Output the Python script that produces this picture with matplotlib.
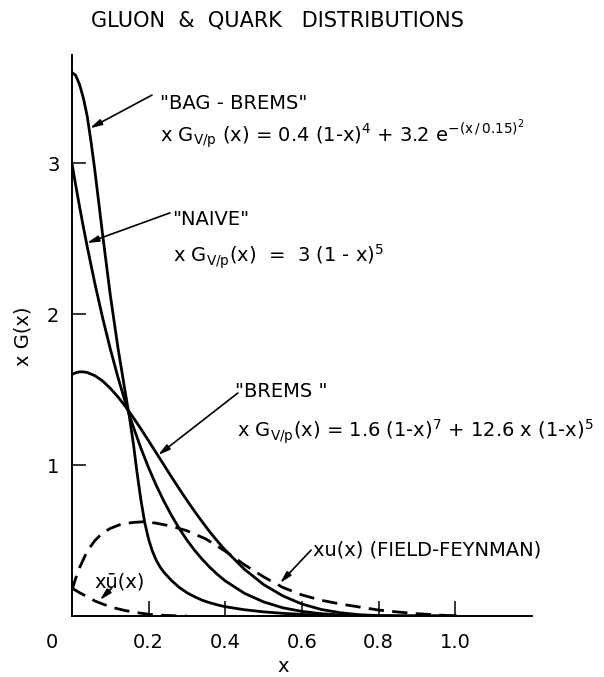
import matplotlib
matplotlib.use("Agg")
import matplotlib.pyplot as plt

# --- dados ---
x_curvas = [0.0, 0.01, 0.02, 0.03, 0.04, 0.06, 0.08, 0.10, 0.12, 0.14, 0.16, 0.18, 0.20,
            0.22, 0.24, 0.26, 0.28, 0.30, 0.32, 0.34, 0.36, 0.38, 0.40,
            0.45, 0.50, 0.55, 0.60, 0.65, 0.70, 0.75, 0.80, 0.85, 0.90, 0.95, 1.0]
naive = [3.0, 2.853, 2.712, 2.576, 2.446, 2.202, 1.977, 1.771, 1.583, 1.411, 1.255, 1.112, 0.983,
         0.866, 0.761, 0.666, 0.580, 0.504, 0.436, 0.376, 0.322, 0.275, 0.233,
         0.151, 0.094, 0.055, 0.031, 0.016, 0.007, 0.003, 0.001, 0.0, 0.0, 0.0, 0.0]
brems = [1.6, 1.611, 1.617, 1.617, 1.613, 1.592, 1.557, 1.509, 1.452, 1.387, 1.315, 1.240, 1.161,
         1.081, 1.001, 0.921, 0.843, 0.767, 0.694, 0.624, 0.557, 0.495, 0.437,
         0.310, 0.209, 0.134, 0.080, 0.044, 0.022, 0.009, 0.003, 0.001, 0.0, 0.0, 0.0]

x_bag = [0.0, 0.01, 0.02, 0.03, 0.04, 0.05, 0.06, 0.07, 0.08, 0.09, 0.10, 0.12, 0.14,
         0.15, 0.16, 0.17, 0.18, 0.19, 0.20, 0.21, 0.22, 0.23, 0.24,
         0.26, 0.28, 0.30, 0.32, 0.34, 0.36, 0.38, 0.40,
         0.45, 0.50, 0.55, 0.60, 0.65, 0.70, 0.75, 0.80, 0.85, 0.90, 0.95, 1.0]
bag_brems = [3.60, 3.58, 3.52, 3.43, 3.31, 3.14, 2.95, 2.74, 2.53, 2.33, 2.13, 1.78, 1.47,
             1.32, 1.15, 0.95, 0.77, 0.62, 0.51, 0.43, 0.37, 0.325, 0.29,
             0.235, 0.19, 0.155, 0.128, 0.105, 0.088, 0.074, 0.062,
             0.042, 0.028, 0.018, 0.011, 0.006, 0.003, 0.0015, 0.0006, 0.0002, 0.0, 0.0, 0.0]

x_u = [0.0, 0.01, 0.02, 0.04, 0.06, 0.08, 0.10, 0.13, 0.16, 0.19, 0.22, 0.26, 0.30,
       0.35, 0.40, 0.45, 0.50, 0.55, 0.60, 0.65, 0.70, 0.75, 0.80, 0.85, 0.90, 0.95, 1.0]
xu_ff = [0.17, 0.25, 0.32, 0.43, 0.50, 0.55, 0.58, 0.61, 0.62, 0.625, 0.615, 0.595, 0.565,
         0.51, 0.43, 0.34, 0.26, 0.19, 0.14, 0.105, 0.08, 0.06, 0.04, 0.027, 0.016, 0.008, 0.0]

x_ubar = [0.0, 0.02, 0.04, 0.06, 0.08, 0.10, 0.12, 0.14, 0.16, 0.18, 0.20, 0.23, 0.26, 0.30]
xubar = [0.185, 0.155, 0.128, 0.10, 0.08, 0.062, 0.048, 0.036, 0.027, 0.019, 0.012, 0.006, 0.003, 0.0]

ticks_x = [0.2, 0.4, 0.6, 0.8, 1.0]
rotulos_x = ["0.2", "0.4", "0.6", "0.8", "1.0"]
ticks_y = [1, 2, 3]
rotulos_y = ["1", "2", "3"]

plt.rcParams['font.family'] = 'DejaVu Sans'
plt.rcParams['mathtext.default'] = 'regular'

fig = plt.figure(figsize=(6.04, 6.77), dpi=100)
ax = fig.add_axes([0.119, 0.090, 0.7616, 0.8287])

# --- curvas ---
lw = 2.0
tracejado = (0, (5.5, 3))
ax.plot(x_bag, bag_brems, color='black', linewidth=lw)
ax.plot(x_curvas, naive, color='black', linewidth=lw)
ax.plot(x_curvas, brems, color='black', linewidth=lw)
ax.plot(x_u, xu_ff, color='black', linewidth=lw, linestyle=tracejado)
ax.plot(x_ubar, xubar, color='black', linewidth=lw, linestyle=tracejado)

ax.set_xlim(0, 1.2)
ax.set_ylim(0, 3.715)
for lado in ['top', 'right']:
    ax.spines[lado].set_visible(False)
for lado in ['left', 'bottom']:
    ax.spines[lado].set_linewidth(1.4)

ax.set_xticks(ticks_x)
ax.set_xticklabels(rotulos_x)
ax.set_yticks(ticks_y)
ax.set_yticklabels(rotulos_y)
ax.tick_params(axis='x', direction='in', length=11, width=1.1, pad=12, labelsize=14)
ax.tick_params(axis='y', direction='in', length=10, width=1.1, pad=9, labelsize=14)

ax.text(-0.052, -0.21, "0", fontsize=14, ha='center', va='baseline')
ax.text(0.55, -0.37, "x", fontsize=14, ha='center', va='baseline')
ax.text(-0.128, 1.85, "x G(x)", fontsize=14, ha='center', va='center', rotation=90)

fig.text(0.46, 0.970, "GLUON  &  QUARK   DISTRIBUTIONS", fontsize=15, ha='center', va='center')

# --- anotacoes ---
fs = 14
ax.text(0.230, 3.36, '"BAG - BREMS"', fontsize=fs, ha='left', va='baseline')
ax.text(0.230, 3.14, r'x G$_{V/p}$ (x) = 0.4 (1-x)$^4$ + 3.2 e$^{-(x\,/\,0.15)^2}$',
        fontsize=fs, ha='left', va='baseline')
ax.text(0.261, 2.59, '"NAIVE"', fontsize=fs, ha='left', va='baseline')
ax.text(0.264, 2.34, r'x G$_{V/p}$(x)  =  3 (1 - x)$^5$', fontsize=fs, ha='left', va='baseline')
ax.text(0.426, 1.45, '"BREMS "', fontsize=fs, ha='left', va='baseline')
ax.text(0.431, 1.185, r'x G$_{V/p}$(x) = 1.6 (1-x)$^7$ + 12.6 x (1-x)$^5$',
        fontsize=fs, ha='left', va='baseline')
ax.text(0.629, 0.40, 'xu(x) (FIELD-FEYNMAN)', fontsize=fs, ha='left', va='baseline')
ax.text(0.060, 0.19, 'xū(x)', fontsize=fs, ha='left', va='baseline')

seta = dict(arrowstyle='-|>,head_length=0.7,head_width=0.18', color='black',
            lw=1.2, shrinkA=0, shrinkB=0)
ax.annotate('', xy=(0.047, 3.23), xytext=(0.209, 3.45), arrowprops=seta)
ax.annotate('', xy=(0.039, 2.47), xytext=(0.256, 2.67), arrowprops=seta)
ax.annotate('', xy=(0.225, 1.066), xytext=(0.433, 1.477), arrowprops=seta)
ax.annotate('', xy=(0.543, 0.219), xytext=(0.624, 0.437), arrowprops=seta)
ax.annotate('', xy=(0.073, 0.106), xytext=(0.104, 0.185), arrowprops=seta)

plt.savefig("out.png", dpi=100)
